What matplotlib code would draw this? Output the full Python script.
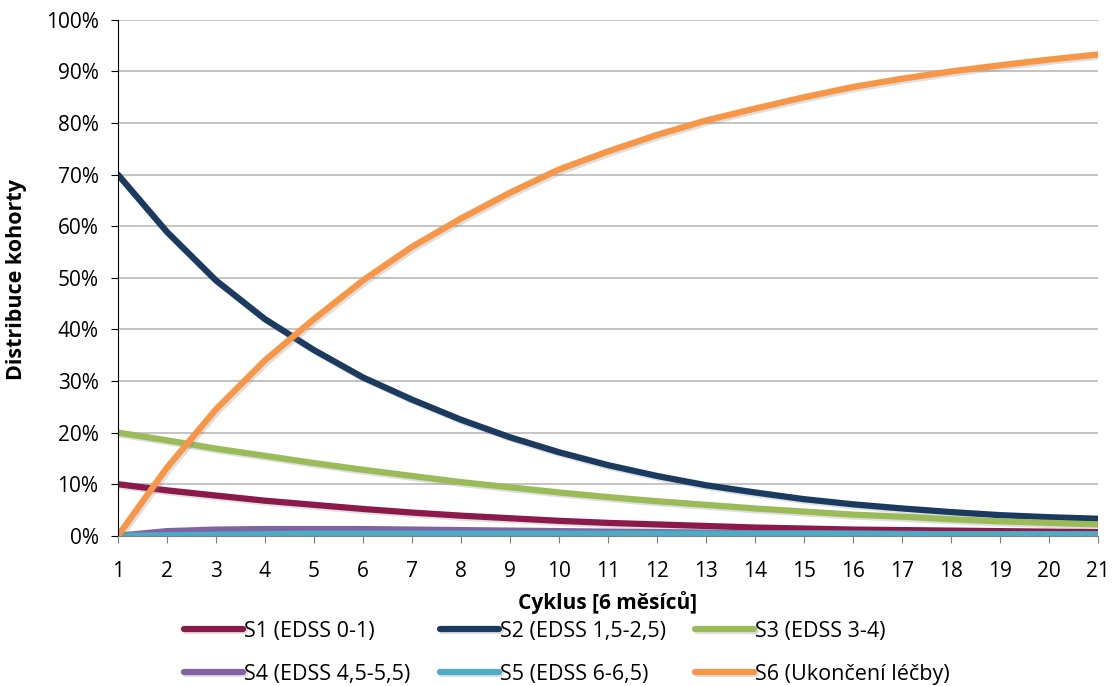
import numpy as np
import matplotlib.pyplot as plt
import matplotlib.patheffects as pe
from matplotlib.ticker import PercentFormatter

plt.rcParams['font.family'] = ['Open Sans', 'DejaVu Sans']

cycles = list(range(1, 22))

# cohort shares per cycle, in %
s1 = [10, 8.8, 7.8, 6.8, 6.0, 5.2, 4.5, 3.9, 3.4, 2.9, 2.5, 2.2, 1.9, 1.6, 1.4, 1.2, 1.1, 1.0, 0.9, 0.8, 0.7]
s2 = [70, 58.9, 49.5, 42.0, 36.0, 30.7, 26.4, 22.5, 19.1, 16.2, 13.7, 11.6, 9.8, 8.4, 7.1, 6.1, 5.3, 4.6, 4.0, 3.6, 3.3]
s3 = [20, 18.5, 16.9, 15.5, 14.1, 12.8, 11.6, 10.4, 9.4, 8.4, 7.5, 6.7, 6.0, 5.3, 4.7, 4.1, 3.7, 3.2, 2.8, 2.5, 2.2]
s4 = [0, 0.9, 1.2, 1.3, 1.3, 1.3, 1.2, 1.1, 1.0, 0.9, 0.8, 0.7, 0.6, 0.5, 0.5, 0.4, 0.4, 0.3, 0.3, 0.3, 0.2]
s5 = [0, 0.1, 0.2, 0.3, 0.4, 0.4, 0.4, 0.4, 0.4, 0.4, 0.4, 0.4, 0.4, 0.4, 0.4, 0.4, 0.3, 0.3, 0.3, 0.3, 0.3]
s6 = [0, 13.2, 24.5, 34.0, 42.0, 49.5, 56.0, 61.5, 66.5, 71.0, 74.5, 77.7, 80.5, 82.8, 85.0, 87.0, 88.6, 90.0, 91.2, 92.3, 93.3]

labels = ['S1 (EDSS 0-1)', 'S2 (EDSS 1,5-2,5)', 'S3 (EDSS 3-4)',
          'S4 (EDSS 4,5-5,5)', 'S5 (EDSS 6-6,5)', 'S6 (Ukončení léčby)']
colors = ['#8B1A4A', '#1B3A5F', '#9BBB59', '#8064A2', '#4BACC6', '#F79646']
series = [s1, s2, s3, s4, s5, s6]

fig = plt.figure(figsize=(11.18, 6.86), dpi=100)
ax = fig.add_axes([0.1055, 0.219, 0.8765, 0.752])

shadow = [pe.SimpleLineShadow(offset=(1.5, -1.5), alpha=0.25, shadow_color='gray'), pe.Normal()]
handles = []
for vals, lab, col in zip(series, labels, colors):
    h, = ax.plot(cycles, vals, color=col, lw=4.5, label=lab,
                 solid_capstyle='round', path_effects=shadow)
    handles.append(h)

ax.set_xlim(1, 21)
ax.set_ylim(0, 100)
ax.set_xticks(cycles)
ax.set_yticks(range(0, 101, 10))
ax.yaxis.set_major_formatter(PercentFormatter(decimals=0))
ax.grid(axis='y', color='#BFBFBF', lw=1.3)
ax.set_axisbelow(True)
for s in ['top', 'right']:
    ax.spines[s].set_visible(False)
ax.spines['left'].set_color('black')
ax.spines['bottom'].set_color('#808080')
ax.tick_params(axis='both', labelsize=15, length=5, direction='out')
ax.tick_params(axis='x', pad=13, color='#808080')
ax.tick_params(axis='y', pad=9)

ax.set_xlabel('Cyklus [6 měsíců]', fontsize=15, fontweight='bold')
ax.set_ylabel('Distribuce kohorty', fontsize=15.5, fontweight='bold')
ax.xaxis.set_label_coords(0.5, -0.108)
ax.yaxis.set_label_coords(-0.093, 0.496)

# row-major legend order: 2 rows x 3 columns
order = [0, 3, 1, 4, 2, 5]
ax.legend([handles[i] for i in order], [labels[i] for i in order],
          ncol=3, frameon=False, fontsize=15.5, loc='upper left',
          bbox_to_anchor=(0.155, 0.111), bbox_transform=fig.transFigure,
          borderpad=0, handlelength=2.75, handletextpad=0.05,
          columnspacing=1.35, labelspacing=1.03)

fig.savefig('out.png', dpi=100)
